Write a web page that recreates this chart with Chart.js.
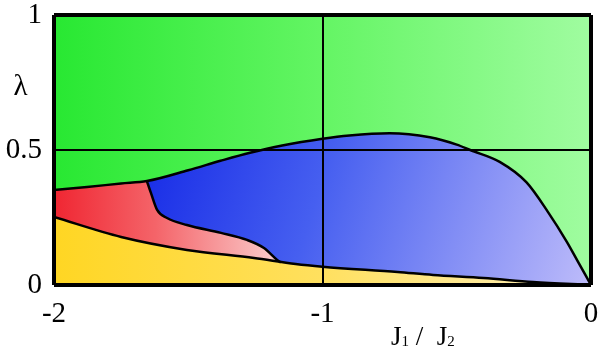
<!DOCTYPE html>
<html>
<head>
<meta charset="utf-8">
<script src="https://cdn.jsdelivr.net/npm/chart.js@4.4.1/dist/chart.umd.min.js"></script>
<style>
  html, body { margin: 0; padding: 0; background: #fff; }
  #wrap { width: 599px; height: 350px; }
</style>
</head>
<body>
<div id="wrap"><canvas id="phase"></canvas></div>
<script>
// ---- data ----
const xTickValues = [-2, -1, 0];
const yTickValues = [0, 0.5, 1];

// green region (whole plot top)
const greenX = [-2, 0];
const greenY = [1, 1];

// upper boundary: green above, red / blue below
const upperX = [-2, -1.877, -1.75, -1.654, -1.5, -1.38, -1.27, -1.15, -1.0, -0.9, -0.75, -0.6, -0.5, -0.45, -0.34, -0.24, -0.16, -0.09, -0.045, 0];
const upperY = [0.352, 0.363, 0.376, 0.385, 0.425, 0.46, 0.49, 0.517, 0.542, 0.554, 0.562, 0.547, 0.52, 0.5, 0.456, 0.38, 0.27, 0.16, 0.08, 0];

// red region: top edge, then red / blue boundary down to the yellow line
const redX = [-2, -1.877, -1.75, -1.654, -1.639, -1.616, -1.579, -1.505, -1.378, -1.281, -1.218, -1.169, -1.155];
const redY = [0.352, 0.363, 0.376, 0.385, 0.341, 0.278, 0.248, 0.222, 0.193, 0.167, 0.137, 0.093, 0.083];

// yellow region top edge
const yellowX = [-2, -1.75, -1.505, -1.255, -1.1, -1.0, -0.72, -0.588, -0.4, -0.216, 0];
const yellowY = [0.252, 0.178, 0.130, 0.100, 0.078, 0.068, 0.048, 0.037, 0.026, 0.011, 0];

const lambdaLabel = "λ";
const lambdaAt = 0.733;
const xTitle = ["J", "1", " /  J", "2"];

const toPoints = (xs, ys) => xs.map((x, i) => ({ x, y: ys[i] }));
const tripleIndex = redY.indexOf(Math.max(...redY));

const FONT = "'Liberation Serif', 'Times New Roman', serif";

function gradient(chart, x0, y0, x1, y1, stops) {
    const { ctx, scales } = chart;
    const g = ctx.createLinearGradient(
        scales.x.getPixelForValue(x0), scales.y.getPixelForValue(y0),
        scales.x.getPixelForValue(x1), scales.y.getPixelForValue(y1));
    stops.forEach(([p, c]) => g.addColorStop(p, c));
    return g;
}

function fillWith(fallback, make) {
    return (c) => {
        const chart = c.chart;
        if (!chart.chartArea) return fallback;
        return make(chart);
    };
}

// x axis title with subscripts
const subTitlePlugin = {
    id: "subTitle",
    afterDraw(chart) {
        const ctx = chart.ctx;
        ctx.save();
        ctx.fillStyle = "#000";
        ctx.textBaseline = "alphabetic";
        let x = 391;
        const base = 345;
        xTitle.forEach((t, i) => {
            const sub = i % 2 === 1;
            ctx.font = (sub ? "15px " : "27px ") + FONT;
            ctx.fillText(t, x, sub ? base + 1 : base);
            x += ctx.measureText(t).width;
        });
        ctx.restore();
    }
};

// drop the extra room chart.js keeps for edge labels
const noEdgePadding = s => {
    s.paddingLeft = 0;
    s.paddingRight = 0;
    s.paddingTop = 0;
    s.paddingBottom = 0;
};

new Chart(document.getElementById("phase"), {
    type: "line",
    data: {
        datasets: [
            {
                // red / blue boundary line
                data: toPoints(redX.slice(tripleIndex), redY.slice(tripleIndex)),
                order: 0,
                fill: false,
                borderColor: "#000",
                borderWidth: 2.5,
                cubicInterpolationMode: "monotone"
            },
            {
                data: toPoints(yellowX, yellowY),
                order: 1,
                fill: "origin",
                borderColor: "#000",
                borderWidth: 2.5,
                cubicInterpolationMode: "monotone",
                backgroundColor: fillWith("#ffd830", ch => gradient(ch, -2, 0, 0, 0, [
                    [0, "rgb(255,214,35)"], [0.5, "rgb(255,224,95)"], [1, "rgb(255,240,190)"]
                ]))
            },
            {
                data: toPoints(redX, redY),
                order: 2,
                fill: "origin",
                borderWidth: 0,
                borderColor: "rgba(0,0,0,0)",
                cubicInterpolationMode: "monotone",
                backgroundColor: fillWith("#f05050", ch => gradient(ch, -2, 0, -1.16, 0, [
                    [0, "rgb(240,38,50)"], [0.45, "rgb(244,100,105)"], [1, "rgb(250,205,205)"]
                ]))
            },
            {
                data: toPoints(upperX, upperY),
                order: 3,
                fill: "origin",
                borderColor: "#000",
                borderWidth: 2.5,
                cubicInterpolationMode: "monotone",
                backgroundColor: fillWith("#3050e8", ch => gradient(ch, -1.7, 0.55, 0, 0, [
                    [0, "rgb(20,40,230)"], [0.4, "rgb(70,95,240)"], [1, "rgb(190,188,250)"]
                ]))
            },
            {
                data: toPoints(greenX, greenY),
                order: 4,
                fill: "origin",
                borderWidth: 0,
                backgroundColor: fillWith("#50f050", ch => gradient(ch, -2, 0, 0, 0, [
                    [0, "rgb(40,232,50)"], [0.5, "rgb(100,245,100)"], [1, "rgb(160,252,160)"]
                ]))
            }
        ]
    },
    options: {
        responsive: true,
        maintainAspectRatio: false,
        animation: false,
        layout: { padding: { top: 15, right: 8, left: 0, bottom: 0 } },
        elements: { point: { radius: 0 } },
        plugins: {
            legend: { display: false },
            tooltip: { enabled: false },
            filler: { drawTime: "beforeDatasetsDraw" }
        },
        scales: {
            x: {
                type: "linear",
                min: -2,
                max: 0,
                afterBuildTicks: s => { s.ticks = xTickValues.map(v => ({ value: v })); },
                afterFit: s => { s.height = 65; noEdgePadding(s); },
                border: { display: false },
                grid: {
                    z: 1,
                    drawTicks: false,
                    color: "#000",
                    lineWidth: c => (c.tick && c.tick.value === -1) ? 2 : 4
                },
                ticks: {
                    padding: 15,
                    color: "#000",
                    maxRotation: 0,
                    font: { family: FONT, size: 29, lineHeight: 1 },
                    callback: v => String(v)
                }
            },
            y: {
                type: "linear",
                min: 0,
                max: 1,
                afterBuildTicks: s => {
                    s.ticks = yTickValues.concat([lambdaAt]).sort((a, b) => a - b).map(v => ({ value: v }));
                },
                afterFit: s => { s.width = 54; noEdgePadding(s); },
                border: { display: false },
                grid: {
                    z: 1,
                    drawTicks: false,
                    color: c => (c.tick && c.tick.value === lambdaAt) ? "rgba(0,0,0,0)" : "#000",
                    lineWidth: c => {
                        if (!c.tick) return 0;
                        if (c.tick.value === lambdaAt) return 0;
                        return c.tick.value === 0.5 ? 2 : 4;
                    }
                },
                ticks: {
                    padding: 12,
                    color: "#000",
                    font: { family: FONT, size: 29, lineHeight: 1 },
                    callback: v => v === lambdaAt ? lambdaLabel + "  " : String(v)
                }
            }
        }
    },
    plugins: [subTitlePlugin]
});
</script>
</body>
</html>
